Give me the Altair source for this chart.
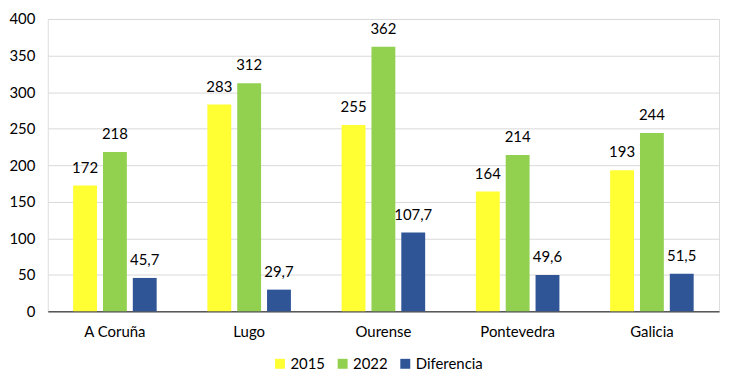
import altair as alt
import pandas as pd

provincias = ["A Coruña", "Lugo", "Ourense", "Pontevedra", "Galicia"]
series = ["2015", "2022", "Diferencia"]
v2015 = [172, 283, 255, 164, 193]
v2022 = [218, 312, 362, 214, 244]
vdif = [45.7, 29.7, 107.7, 49.6, 51.5]
colores = ["#FFFF33", "#92D050", "#2F5597"]

rows = []
for i, p in enumerate(provincias):
    for s, vals in zip(series, [v2015, v2022, vdif]):
        v = vals[i]
        lab = (f"{v:.1f}".replace(".", ",")) if s == "Diferencia" else f"{int(v)}"
        rows.append({"prov": p, "serie": s, "valor": v, "etiqueta": lab})
df = pd.DataFrame(rows)

FONT = "Lato"
FS = 15

base = alt.Chart(df).encode(
    x=alt.X("prov:N", sort=provincias, title=None,
            scale=alt.Scale(paddingInner=1/3, paddingOuter=1/6),
            axis=alt.Axis(labelAngle=0, ticks=False, domainColor="#595959", domainWidth=1.5,
                          labelFontSize=FS, labelColor="#000000", labelPadding=13, labelFont=FONT)),
    xOffset=alt.XOffset("serie:N", sort=series, scale=alt.Scale(paddingInner=0.2, paddingOuter=0.1)),
    y=alt.Y("valor:Q", title=None,
            scale=alt.Scale(domain=[0, 400]),
            axis=alt.Axis(values=list(range(0, 401, 50)), domain=False, ticks=False,
                          gridColor="#D9D9D9", gridWidth=1, labelFontSize=FS, labelColor="#000000",
                          labelPadding=13, labelFont=FONT)),
)

bars = base.mark_bar().encode(
    color=alt.Color("serie:N", sort=series, scale=alt.Scale(domain=series, range=colores),
                    legend=alt.Legend(title=None, orient="none", direction="horizontal",
                                      legendX=226, legendY=339,
                                      symbolType="square", symbolSize=100, labelFontSize=FS,
                                      labelFont=FONT, labelColor="#000000", columnPadding=10,
                                      labelOffset=3, symbolStrokeWidth=0))
)

text = base.mark_text(dy=-10, fontSize=FS, font=FONT, color="#000000", baseline="bottom").encode(
    text="etiqueta:N"
)

chart = (bars + text).properties(
    width=675, height=294,
    padding={"left": 0, "top": 3, "right": 5, "bottom": 5},
).configure_view(stroke=None).configure(font=FONT, background="#FFFFFF")

chart.save("out.html", embed_options={"renderer": "svg", "actions": False})
